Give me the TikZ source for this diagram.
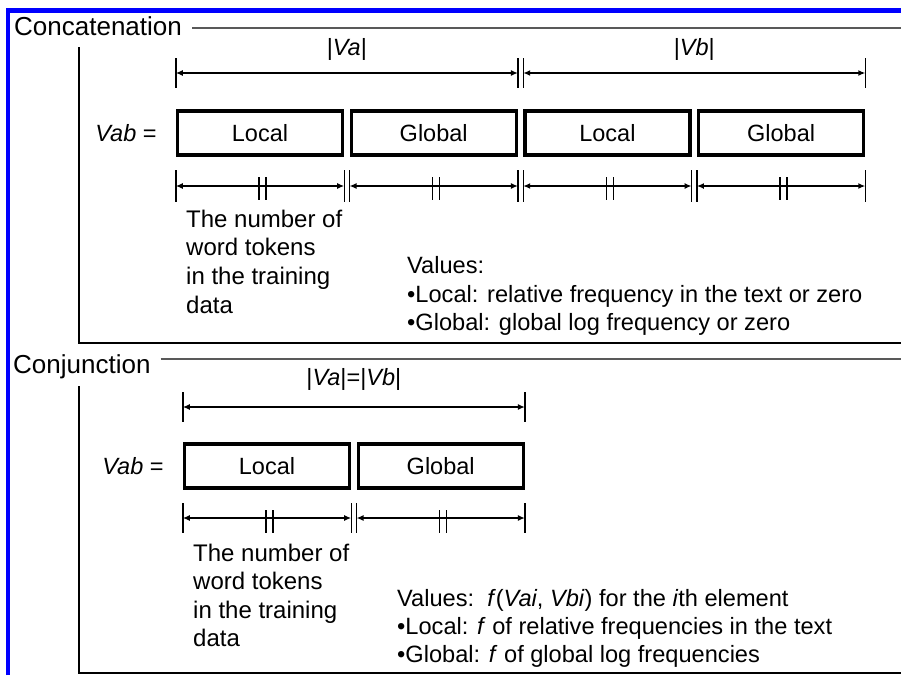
\documentclass[tikz,border=0pt]{standalone}
\usepackage{fontspec}
\setmainfont{Liberation Sans}
\usetikzlibrary{arrows.meta,positioning}

\tikzset{
  box/.style={draw, line width=3.4pt, minimum width=165pt, minimum height=44pt, inner sep=0pt, font=\fontsize{23.5}{27}\selectfont},
  dim/.style={{Latex[length=7pt,width=6pt]}-{Latex[length=7pt,width=6pt]}, line width=1.4pt},
  tick/.style={line width=1.4pt},
  frame/.style={line width=1.6pt},
  rule/.style={line width=1.6pt, black!65},
  head/.style={inner sep=0pt, anchor=base west, font=\fontsize{26}{30}\selectfont},
  note/.style={inner sep=0pt, anchor=base west, font=\fontsize{24}{28}\selectfont},
  lbl/.style={inner sep=0pt, font=\fontsize{23.5}{27}\selectfont},
}

\begin{document}
\begin{tikzpicture}[x=1pt,y=-1pt]
\useasboundingbox (0,0) rectangle (901,675);
\coordinate (edge) at (901,0);
\draw[blue, line width=4.5pt] (8,675) -- (8,10.5) -- (901,10.5);

% concatenation
\node[head] (cat) at (14,35) {Concatenation};
\draw[rule] (cat.east |- 0,28) ++(10,0) -- (edge |- 0,28);
\draw[frame] (79,47) -- (79,343) -- (edge |- 0,343);

\node[box] (l1) at (260,133) {Local};
\node[box, right=5.3pt of l1] (g1) {Global};
\node[box, right=5.3pt of g1] (l2) {Local};
\node[box, right=5.3pt of l2] (g2) {Global};
\node[lbl, left=19pt of l1] (vab1) {\textit{Vab} =};

\draw[dim] (l1.west |- 0,73) -- node[lbl, above=12pt] {|\textit{Va}|} (g1.east |- 0,73);
\draw[dim] (l2.west |- 0,73) -- node[lbl, above=12pt] {|\textit{Vb}|} (g2.east |- 0,73);
\foreach \n in {l1.west, g1.east, l2.west, g2.east}
  \draw[tick] (\n |- 0,58) -- (\n |- 0,88);

\foreach \n in {l1,g1,l2,g2} {
  \draw[tick] (\n.west |- 0,186) ++(0,-16) -- ++(0,32);
  \draw[tick] (\n.east |- 0,186) ++(0,-16) -- ++(0,32);
  \draw[dim] (\n.west |- 0,186) -- (\n.east |- 0,186);
  \draw[tick] (\n.center |- 0,186) ++(-1,-9) -- ++(0,23) ++(7,-23) -- ++(0,23);
}

\foreach \txt [count=\i] in {The number of, word tokens, in the training, data}
  \node[note] (tok1-\i) at (186,{198.6+28.6*\i}) {\txt};

\node[note, font=\fontsize{23.6}{28}\selectfont] (val1-1) at (407,273) {Values:};
\node[note, font=\fontsize{23.6}{28}\selectfont] (val1-2) at (407,302) {•Local: relative frequency in the text or zero};
\node[note, font=\fontsize{23.6}{28}\selectfont] (val1-3) at (407,330) {•Global: global log frequency or zero};

% conjunction
\node[head] (con) at (13,373) {Conjunction};
\draw[rule] (con.east |- 0,359) ++(10,0) -- (edge |- 0,359);
\draw[frame] (79,386) -- (79,673) -- (edge |- 0,673);

\node[box] (l3) at (267,466) {Local};
\node[box, right=5.3pt of l3] (g3) {Global};
\node[lbl, left=19pt of l3] (vab2) {\textit{Vab} =};

\draw[dim] (l3.west |- 0,407) -- node[lbl, above=16pt] {|\textit{Va}|=|\textit{Vb}|} (g3.east |- 0,407);
\foreach \n in {l3.west, g3.east}
  \draw[tick] (\n |- 0,392) -- (\n |- 0,422);

\foreach \n in {l3,g3} {
  \draw[tick] (\n.west |- 0,518) ++(0,-15) -- ++(0,30);
  \draw[tick] (\n.east |- 0,518) ++(0,-15) -- ++(0,30);
  \draw[dim] (\n.west |- 0,518) -- (\n.east |- 0,518);
  \draw[tick] (\n.center |- 0,518) ++(-1,-8) -- ++(0,23) ++(7,-23) -- ++(0,23);
}

\foreach \txt [count=\i] in {The number of, word tokens, in the training, data}
  \node[note] (tok2-\i) at (193,{532.4+28.6*\i}) {\txt};

\node[note, font=\fontsize{23.6}{28}\selectfont] (val2-1) at (397,606) {Values:\ \ \textit{f}(\textit{Vai}, \textit{Vbi}) for the \textit{i}th element};
\node[note, font=\fontsize{23.6}{28}\selectfont] (val2-2) at (397,634) {•Local: \textit{f} of relative frequencies in the text};
\node[note, font=\fontsize{23.6}{28}\selectfont] (val2-3) at (397,662) {•Global: \textit{f} of global log frequencies};
\end{tikzpicture}
\end{document}
